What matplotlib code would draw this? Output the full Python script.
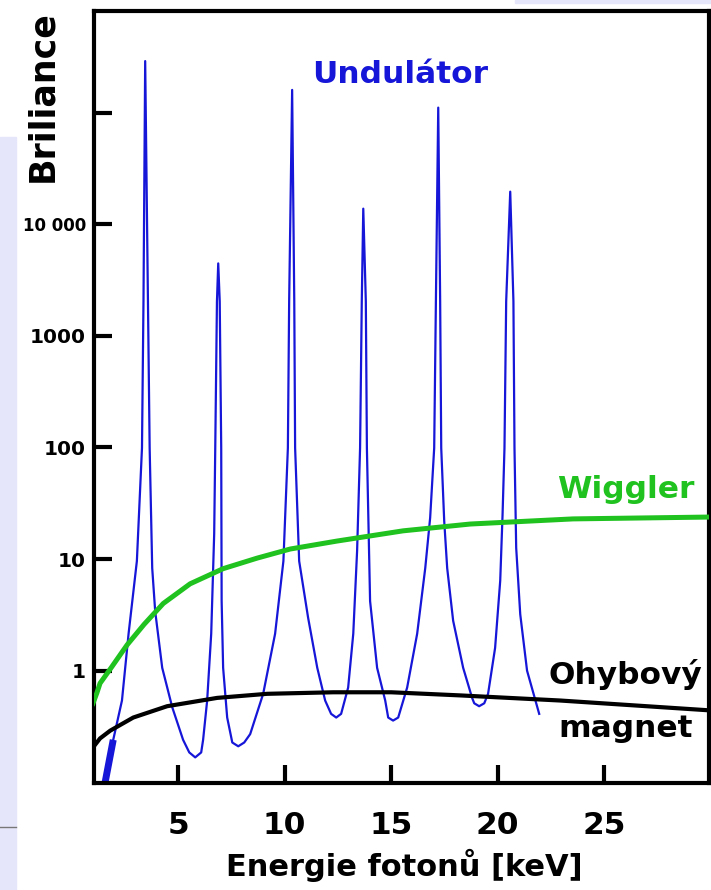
import matplotlib
matplotlib.use("Agg")
import matplotlib.pyplot as plt
from matplotlib.patches import Rectangle
from matplotlib.lines import Line2D

plt.rcParams['font.family'] = ['DejaVu Sans']
plt.rcParams['font.weight'] = 'bold'

# undulator spectrum
und_x = [1.57, 1.95, 2.36, 2.67, 3.06, 3.30, 3.37, 3.45, 3.58, 3.66, 3.78, 3.92, 4.25, 4.72,
         5.23, 5.52, 5.80, 6.08, 6.17, 6.36, 6.55, 6.69, 6.74, 6.82, 6.88, 6.95, 7.02, 7.04,
         7.11, 7.30, 7.54, 7.82, 8.10, 8.38, 8.99, 9.55, 9.94, 10.15, 10.21, 10.35, 10.45,
         10.49, 10.68, 11.10, 11.53, 11.90, 12.18, 12.42, 12.65, 12.98, 13.22, 13.40, 13.54,
         13.62, 13.69, 13.81, 13.86, 14.01, 14.34, 14.72, 14.86, 15.09, 15.33, 15.75, 16.22,
         16.60, 16.83, 17.02, 17.10, 17.21, 17.30, 17.35, 17.49, 17.63, 17.91, 18.38, 18.80,
         18.90, 19.13, 19.37, 19.55, 19.88, 20.12, 20.23, 20.32, 20.40, 20.59, 20.74, 20.79,
         20.87, 21.06, 21.38, 21.95]
und_y = [0.10, 0.24, 0.54, 2.14, 9.6, 99, 2040, 2.9e5, 2040, 99, 8.3, 3.4, 1.06, 0.47,
         0.24, 0.185, 0.167, 0.185, 0.24, 0.54, 2.14, 16.8, 99, 2040, 4460, 2040, 99, 4.2,
         1.06, 0.38, 0.227, 0.21, 0.227, 0.27, 0.62, 2.14, 9.6, 99, 2040, 1.6e5, 2040,
         99, 9.6, 2.98, 1.06, 0.54, 0.41, 0.38, 0.41, 0.705, 2.14, 11.8, 99,
         2040, 1.38e4, 2040, 99, 4.2, 1.06, 0.54, 0.38, 0.357, 0.38, 0.705, 2.14,
         8.3, 23.4, 99, 2040, 1.11e5, 2040, 99, 22, 8.3, 2.8, 1.06, 0.57,
         0.51, 0.48, 0.51, 0.62, 1.6, 6.4, 25, 99, 2040, 1.96e4, 2040, 99,
         12.6, 3.2, 1.0, 0.41]

wig_x = [1.0, 1.18, 1.33, 1.85, 2.6, 3.4, 4.3, 5.56, 7.11, 8.71, 10.26, 12.46, 15.56, 18.71, 23.54, 30]
wig_y = [0.51, 0.63, 0.77, 1.06, 1.7, 2.6, 4.0, 6.0, 8.2, 10.2, 12.3, 14.5, 17.9, 20.6, 22.9, 23.8]

bm_x = [1.0, 1.33, 1.81, 2.89, 4.48, 6.83, 9.18, 12.28, 15.0, 18.24, 22.93, 30]
bm_y = [0.205, 0.247, 0.29, 0.38, 0.48, 0.57, 0.62, 0.64, 0.64, 0.60, 0.54, 0.44]

x_ticks = [5, 10, 15, 20, 25]
y_ticks = [1, 10, 100, 1000, 10000, 100000]
y_labels = ['1', '10', '100', '1000', '10 000', '']

blue = '#1616d8'
green = '#1fc21f'

fig = plt.figure(figsize=(7.11, 8.90), dpi=100)

# slide background bits
lav = '#e6e6fa'
fig.patches.append(Rectangle((0, 0), 16/711, 1 - 137/890, transform=fig.transFigure,
                             color=lav, zorder=0))
fig.patches.append(Rectangle((515/711, 1 - 3/890), 196/711, 3/890, transform=fig.transFigure,
                             color=lav, zorder=0))
fig.lines.append(Line2D([0, 16/711], [1 - 827/890] * 2, transform=fig.transFigure,
                        color='#777777', lw=1))

ax = fig.add_axes([0.1329, 0.1197, 0.8636, 0.8674])
ax.set_yscale('log')
ax.set_xlim(1.07, 29.9)
ax.set_ylim(0.0975, 8.07e5)

ax.plot(und_x, und_y, color=blue, lw=1.6, zorder=2)
ax.plot(und_x[:2], und_y[:2], color=blue, lw=5, zorder=2, solid_capstyle='butt')
ax.plot(bm_x, bm_y, color='black', lw=3, zorder=3)
ax.plot(wig_x, wig_y, color=green, lw=3.6, zorder=4)

for s in ax.spines.values():
    s.set_linewidth(3)

ax.minorticks_off()
ax.set_xticks(x_ticks)
ax.set_xticklabels([str(v) for v in x_ticks])
ax.set_yticks(y_ticks)
ax.set_yticklabels(y_labels)
ax.tick_params(axis='both', direction='in', length=13, width=3)
ax.tick_params(axis='x', labelsize=22.5, pad=20)
ax.tick_params(axis='y', labelsize=14.5, pad=6)
for lab in ax.get_yticklabels():
    if lab.get_text() == '10 000':
        lab.set_fontsize(12)

ax.text(15.4, 2.18e5, 'Undulátor', color=blue, fontsize=22.5, ha='center', va='center')
ax.text(26.0, 41.6, 'Wiggler', color=green, fontsize=22.5, ha='center', va='center')
ax.text(26.0, 0.915, 'Ohybový', color='black', fontsize=22.5, ha='center', va='center')
ax.text(26.0, 0.3, 'magnet', color='black', fontsize=22.5, ha='center', va='center')

fig.text(404/711, 1 - 865/890, 'Energie fotonů [keV]', fontsize=22, ha='center', va='center')
fig.text(42/711, 1 - 96/890, 'Briliance', fontsize=25, rotation=90, ha='center', va='center')

fig.savefig('out.png', dpi=100)
